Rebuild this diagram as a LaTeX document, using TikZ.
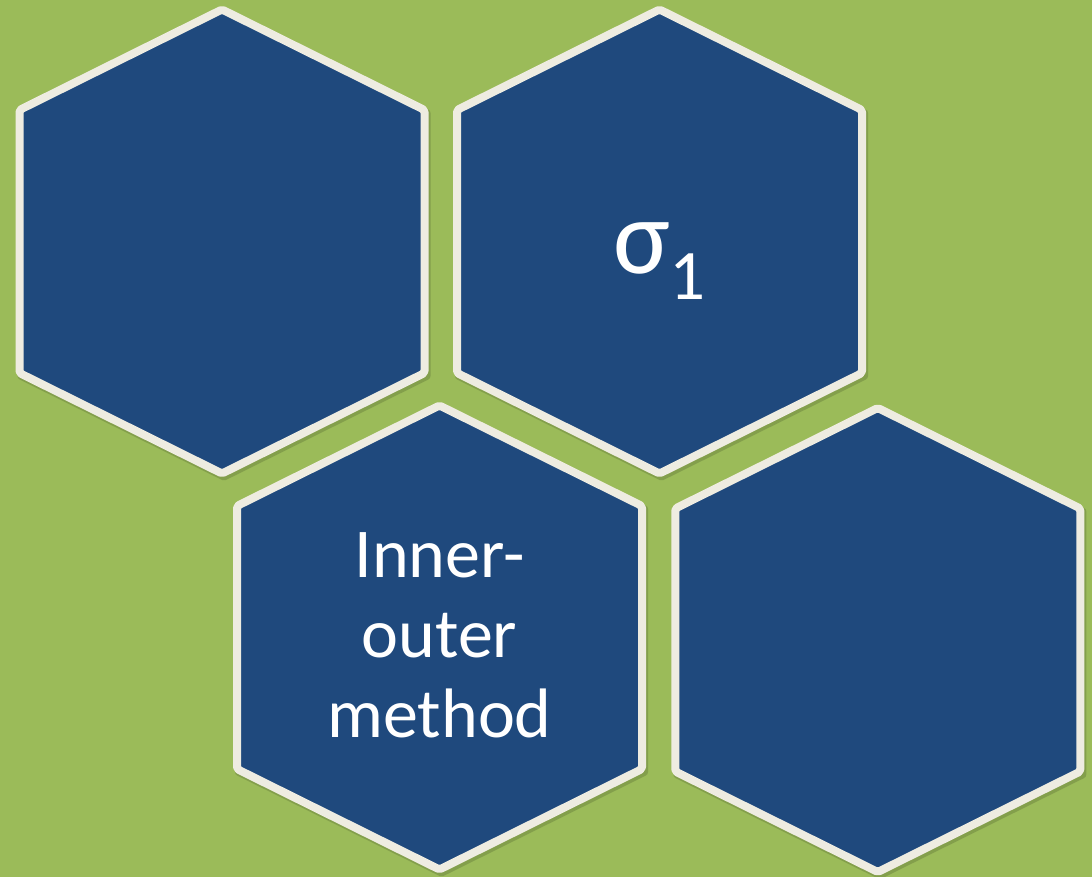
\documentclass[tikz,border=0pt]{standalone}
\usepackage{fontspec}
\setmainfont{Carlito}
\definecolor{bggreen}{HTML}{9BBB59}
\definecolor{hexblue}{HTML}{1F497D}
\definecolor{hexrim}{HTML}{EEECE1}
\tikzset{
  hexshape/.style={fill=hexblue, draw=hexrim, line width=8pt, line join=round, rounded corners=2pt},
  hexshadow/.style={fill=black, draw=black, line width=8pt, line join=round, opacity=0.15},
  hexa/.pic={
    \path[hexshadow, shift={(2,3)}] (0,-232) -- (202.5,-131.5) -- (202.5,131.5) -- (0,232) -- (-202.5,131.5) -- (-202.5,-131.5) -- cycle;
    \path[hexshape] (0,-232) -- (202.5,-131.5) -- (202.5,131.5) -- (0,232) -- (-202.5,131.5) -- (-202.5,-131.5) -- cycle;
  },
  txt/.style={text=white, inner sep=0pt}
}
\begin{document}
\begin{tikzpicture}[x=1pt,y=-1pt]
\fill[bggreen] (0,0) rectangle (1092,877);
\useasboundingbox (0,0) rectangle (1092,877);
\pic at (222,241.5) {hexa};
\pic at (659.5,241.5) {hexa};
\pic at (439.5,637.5) {hexa};
\pic at (877.8,640) {hexa};
\node[txt, anchor=base, font=\fontsize{107}{120}\selectfont] (sigma) at (659.5,274) {σ\raisebox{-25pt}{\fontsize{71}{80}\selectfont 1}};
\node[txt, align=center, anchor=base, font=\fontsize{70}{80}\selectfont] (inner) at (439.5,737) {Inner-\\outer\\method};
\end{tikzpicture}
\end{document}
